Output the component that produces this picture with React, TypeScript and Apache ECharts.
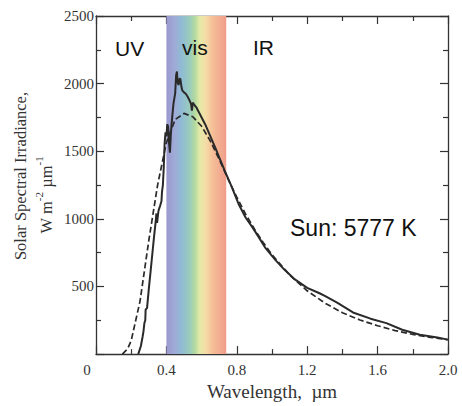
import React, { useEffect, useRef } from "react";
import * as echarts from "echarts";

// Blackbody (dashed) curve, 5777 K
const bbWavelength = [0.15, 0.18, 0.2, 0.25, 0.3, 0.35, 0.4, 0.45, 0.5, 0.55, 0.6, 0.65, 0.7, 0.75, 0.8, 0.85, 0.9, 0.95, 1.0, 1.1, 1.2, 1.3, 1.4, 1.5, 1.6, 1.7, 1.8, 1.9, 2.0];
const bbIrradiance = [0, 40, 100, 390, 840, 1250, 1565, 1735, 1780, 1755, 1685, 1575, 1440, 1295, 1160, 1035, 925, 825, 735, 585, 468, 378, 306, 252, 210, 174, 146, 124, 106];

const sunWavelength = [0.24, 0.255, 0.265, 0.27, 0.275, 0.28, 0.282, 0.29, 0.3, 0.31, 0.32, 0.33, 0.335, 0.34, 0.343, 0.347, 0.355, 0.365, 0.372, 0.375, 0.38, 0.385, 0.39, 0.395, 0.4, 0.405, 0.41, 0.415, 0.42, 0.425, 0.43, 0.44, 0.45, 0.455, 0.46, 0.463, 0.47, 0.475, 0.48, 0.485, 0.49, 0.5, 0.51, 0.52, 0.53, 0.54, 0.545, 0.55, 0.56, 0.57, 0.58, 0.59, 0.6, 0.62, 0.65, 0.68, 0.7, 0.73, 0.77, 0.81, 0.85, 0.89, 0.92, 0.96, 1.02, 1.07, 1.13, 1.2, 1.27, 1.3, 1.37, 1.46, 1.56, 1.65, 1.74, 1.84, 1.94, 2.0];
const sunIrradiance = [0, 60, 130, 170, 230, 250, 330, 340, 480, 610, 740, 870, 930, 990, 1040, 970, 1060, 1100, 1130, 1200, 1250, 1380, 1560, 1640, 1610, 1700, 1680, 1560, 1490, 1620, 1710, 1850, 1930, 2060, 2090, 2010, 1990, 2040, 2030, 1980, 1950, 1935, 1925, 1905, 1880, 1850, 1800, 1860, 1840, 1825, 1800, 1775, 1750, 1700, 1610, 1520, 1455, 1360, 1240, 1110, 1010, 935, 874, 790, 695, 625, 552, 490, 450, 430, 380, 308, 262, 229, 180, 143, 122, 107];

// Visible band
const visibleBand = [0.4, 0.74];

const yTickValues = [500, 1000, 1500, 2000, 2500];

const SERIF = "'Liberation Serif', 'Times New Roman', serif";
const SANS = "'Liberation Sans', Arial, sans-serif";
const INK = "#2a2a2a";

function axisLine() {
  return { show: true, onZero: false, lineStyle: { color: "#333", width: 1.3 } };
}
function axisTick() {
  return { show: true, inside: true, length: 8, lineStyle: { color: "#333", width: 1.2 } };
}
function minorTick() {
  return { show: true, splitNumber: 2, length: 5, lineStyle: { color: "#333", width: 1.2 } };
}

export default function App() {
  const ref = useRef<HTMLDivElement>(null);

  useEffect(() => {
    if (!ref.current) return;
    const chart = echarts.init(ref.current, undefined, { renderer: "svg" });

    const bbData = bbWavelength.map((w, i) => [w, bbIrradiance[i]]);
    const sunData = sunWavelength.map((w, i) => [w, sunIrradiance[i]]);

    const option: any = {
      animation: false,
      backgroundColor: "#fff",
      grid: { left: 96, top: 16, right: 14, bottom: 42, containLabel: false },
      xAxis: [
        {
          type: "value",
          min: 0,
          max: 2,
          interval: 0.4,
          position: "bottom",
          axisLine: axisLine(),
          axisTick: axisTick(),
          minorTick: minorTick(),
          splitLine: { show: false },
          name: "Wavelength,  µm",
          nameLocation: "middle",
          nameGap: 12,
          nameTextStyle: { fontFamily: SERIF, fontSize: 19, color: "#333", verticalAlign: "top" },
          axisLabel: {
            margin: 8,
            fontFamily: SERIF,
            fontSize: 15,
            color: "#333",
            formatter: (v: number) => (v === 0 ? "{z|0}" : v.toFixed(1)),
            rich: { z: { fontFamily: SERIF, fontSize: 15, color: "#333", padding: [0, 18, 0, 0] } },
          },
        },
        {
          type: "value",
          min: 0,
          max: 2,
          interval: 0.4,
          position: "top",
          axisLine: axisLine(),
          axisTick: axisTick(),
          minorTick: minorTick(),
          splitLine: { show: false },
          axisLabel: { show: false },
        },
      ],
      yAxis: [
        {
          type: "value",
          min: 0,
          max: 2500,
          interval: 500,
          position: "left",
          axisLine: axisLine(),
          axisTick: axisTick(),
          minorTick: minorTick(),
          splitLine: { show: false },
          axisLabel: {
            margin: 2,
            fontFamily: SERIF,
            fontSize: 15,
            color: "#333",
            formatter: (v: number) => (yTickValues.indexOf(v) >= 0 ? String(v) : ""),
          },
        },
        {
          type: "value",
          min: 0,
          max: 2500,
          interval: 500,
          position: "right",
          axisLine: axisLine(),
          axisTick: axisTick(),
          minorTick: minorTick(),
          splitLine: { show: false },
          axisLabel: { show: false },
        },
      ],
      series: [
        {
          type: "line",
          name: "band",
          data: [],
          silent: true,
          z: 1,
          markArea: {
            silent: true,
            itemStyle: {
              color: new echarts.graphic.LinearGradient(0, 0, 1, 0, [
                { offset: 0, color: "#9b99d0" },
                { offset: 0.14, color: "#9fabd6" },
                { offset: 0.26, color: "#8fbcd4" },
                { offset: 0.4, color: "#9ccdb9" },
                { offset: 0.48, color: "#b5da9e" },
                { offset: 0.56, color: "#e6eaa9" },
                { offset: 0.66, color: "#f5dca6" },
                { offset: 0.78, color: "#f5bd97" },
                { offset: 1, color: "#ef9d8b" },
              ]),
            },
            data: [[{ xAxis: visibleBand[0] }, { xAxis: visibleBand[1] }]],
          },
        },
        {
          type: "line",
          name: "Blackbody 5777 K",
          data: bbData,
          showSymbol: false,
          symbol: "none",
          z: 3,
          lineStyle: { color: INK, width: 1.7, type: [6, 3] },
        },
        {
          type: "line",
          name: "Sun",
          data: sunData,
          showSymbol: false,
          symbol: "none",
          z: 4,
          lineStyle: { color: INK, width: 2 },
        },
      ],
      graphic: [
        {
          type: "text",
          x: 20,
          y: 176,
          z: 100,
          rotation: Math.PI / 2,
          style: {
            text: "Solar Spectral Irradiance,",
            fontFamily: SERIF,
            fontSize: 16.5,
            fill: "#333",
            align: "center",
            verticalAlign: "middle",
          },
        },
        {
          type: "text",
          x: 44,
          y: 195,
          z: 100,
          rotation: Math.PI / 2,
          style: {
            text: "{n|W m}{s|-2}{n| µm}{s|-1}",
            align: "center",
            verticalAlign: "middle",
            rich: {
              n: { fontFamily: SERIF, fontSize: 16.5, fill: "#333", lineHeight: 22, verticalAlign: "bottom" },
              s: { fontFamily: SERIF, fontSize: 11, fill: "#333", lineHeight: 22, verticalAlign: "top" },
            },
          },
        },
        {
          type: "text",
          x: 115,
          y: 48,
          z: 100,
          style: { text: "UV", fontFamily: SANS, fontSize: 21, fill: "#111", verticalAlign: "middle" },
        },
        {
          type: "text",
          x: 182,
          y: 47,
          z: 100,
          style: { text: "vis", fontFamily: SANS, fontSize: 21, fill: "#111", verticalAlign: "middle" },
        },
        {
          type: "text",
          x: 253,
          y: 47,
          z: 100,
          style: { text: "IR", fontFamily: SANS, fontSize: 21, fill: "#111", verticalAlign: "middle" },
        },
        {
          type: "text",
          x: 290,
          y: 228,
          z: 100,
          style: { text: "Sun: 5777 K", fontFamily: SANS, fontSize: 23, fill: "#111", verticalAlign: "middle" },
        },
      ],
    };

    chart.setOption(option);
    return () => chart.dispose();
  }, []);

  return (
    <div
      ref={ref}
      style={{ position: "fixed", left: 0, top: 0, width: 462, height: 406, background: "#fff" }}
    />
  );
}
